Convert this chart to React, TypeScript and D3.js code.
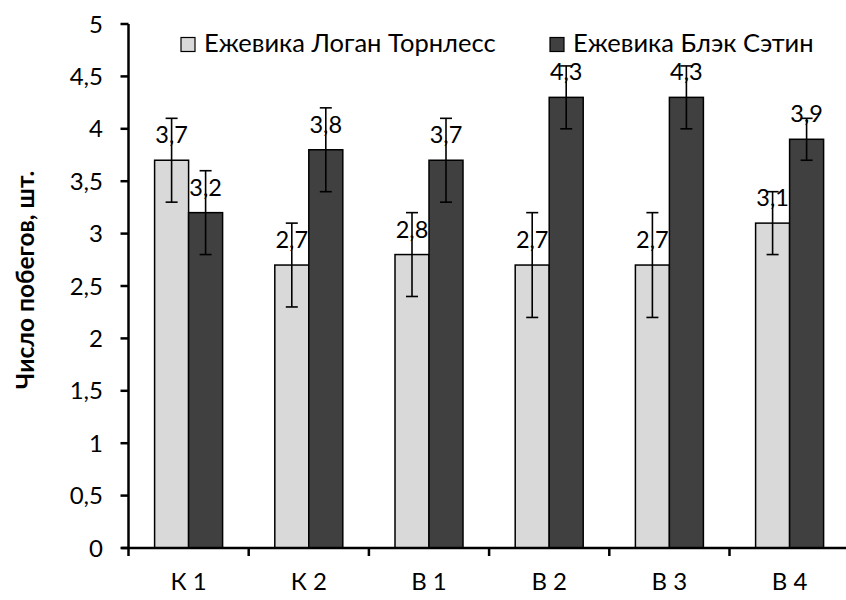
import React from "react";
import * as d3 from "d3";

const categories = ["К 1", "К 2", "В 1", "В 2", "В 3", "В 4"];
const seriesNames = ["Ежевика Логан Торнлесс", "Ежевика Блэк Сэтин"];
const loganValues = [3.7, 2.7, 2.8, 2.7, 2.7, 3.1];
const loganErrors = [0.4, 0.4, 0.4, 0.5, 0.5, 0.3];
const blackValues = [3.2, 3.8, 3.7, 4.3, 4.3, 3.9];
const blackErrors = [0.4, 0.4, 0.4, 0.3, 0.3, 0.2];
const yTicks = [0, 0.5, 1, 1.5, 2, 2.5, 3, 3.5, 4, 4.5, 5];
const yTitle = "Число побегов, шт.";

const W = 846;
const H = 600;
const FONT = "Lato, 'Open Sans', sans-serif";
const colors = ["#d9d9d9", "#404040"];

export default function App() {
  const x0 = 128.5;
  const x1 = x0 + 6 * 120.2;
  const y0 = 548;
  const y1 = 24;
  const x = d3.scaleBand<string>().domain(categories).range([x0, x1]).paddingInner(0).paddingOuter(0);
  const y = d3.scaleLinear().domain([0, 5]).range([y0, y1]);
  const barW = 34;
  const series = [
    { values: loganValues, errors: loganErrors },
    { values: blackValues, errors: blackErrors },
  ];
  const fmt = (v: number) => d3.format(".1f")(v).replace(".", ",");
  const tickFmt = (v: number) => String(v).replace(".", ",");

  return (
    <svg width={W} height={H} style={{ position: "absolute", left: 0, top: 0, background: "#fff" }}>
      {series.map((s, si) =>
        categories.map((c, i) => {
          const cx = (x(c) as number) + x.bandwidth() / 2;
          const bx = cx - barW + si * barW;
          const v = s.values[i];
          return (
            <rect
              key={`b${si}-${i}`}
              x={bx}
              y={y(v)}
              width={barW}
              height={y0 - y(v)}
              fill={colors[si]}
              stroke="#000"
              strokeWidth={1.5}
            />
          );
        })
      )}
      {series.map((s, si) =>
        categories.map((c, i) => {
          const cx = (x(c) as number) + x.bandwidth() / 2;
          const ex = cx - barW / 2 + si * barW;
          const v = s.values[i];
          const e = s.errors[i];
          return (
            <g key={`e${si}-${i}`} stroke="#000" strokeWidth={1.6}>
              <line x1={ex} x2={ex} y1={y(v + e)} y2={y(v - e)} />
              <line x1={ex - 6} x2={ex + 6} y1={y(v + e)} y2={y(v + e)} />
              <line x1={ex - 6} x2={ex + 6} y1={y(v - e)} y2={y(v - e)} />
            </g>
          );
        })
      )}
      {series.map((s, si) =>
        categories.map((c, i) => {
          const cx = (x(c) as number) + x.bandwidth() / 2;
          const ex = cx - barW / 2 + si * barW;
          const v = s.values[i];
          return (
            <text
              key={`l${si}-${i}`}
              x={ex}
              y={y(v) - 17}
              textAnchor="middle"
              fontFamily={FONT}
              fontSize={23.5}
              fill="#000"
            >
              {fmt(v)}
            </text>
          );
        })
      )}
      <line x1={x0} x2={x0} y1={y1} y2={y0 + 1} stroke="#000" strokeWidth={2.5} />
      <line x1={x0 - 7} x2={x1 + 2} y1={y0} y2={y0} stroke="#000" strokeWidth={2.5} />
      {yTicks.map((t) => (
        <g key={`yt${t}`}>
          <line x1={x0 - 8} x2={x0} y1={y(t)} y2={y(t)} stroke="#000" strokeWidth={2.5} />
          <text
            x={103}
            y={y(t)}
            dy="0.36em"
            textAnchor="end"
            fontFamily={FONT}
            fontSize={24}
            fill="#000"
          >
            {tickFmt(t)}
          </text>
        </g>
      ))}
      {d3.range(categories.length + 1).map((i) => (
        <line
          key={`xt${i}`}
          x1={x0 + i * x.step()}
          x2={x0 + i * x.step()}
          y1={y0}
          y2={y0 + 8}
          stroke="#000"
          strokeWidth={2.5}
        />
      ))}
      {categories.map((c) => (
        <text
          key={`xl${c}`}
          x={(x(c) as number) + x.bandwidth() / 2}
          y={590}
          textAnchor="middle"
          fontFamily={FONT}
          fontSize={24}
          fill="#000"
        >
          {c}
        </text>
      ))}
      <text
        transform={`translate(34, 280) rotate(-90)`}
        textAnchor="middle"
        fontFamily={FONT}
        fontWeight="bold"
        fontSize={24.5}
        fill="#000"
      >
        {yTitle}
      </text>
      {seriesNames.map((n, si) => {
        const lx = si === 0 ? 181 : 550;
        return (
          <g key={`lg${si}`}>
            <rect x={lx} y={37.5} width={14} height={14} fill={colors[si]} stroke="#000" strokeWidth={1.2} />
            <text x={lx + 23} y={52} fontFamily={FONT} fontSize={25.5} fill="#000">
              {n}
            </text>
          </g>
        );
      })}
    </svg>
  );
}
